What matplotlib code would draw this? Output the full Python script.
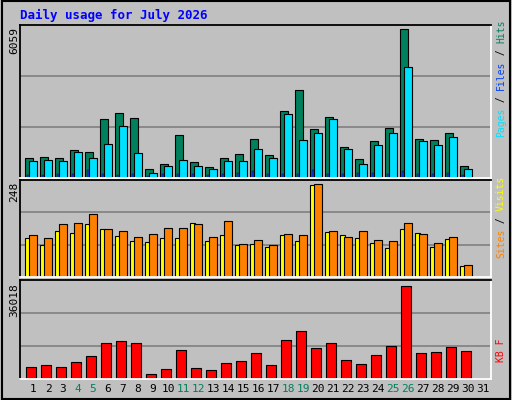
import matplotlib
matplotlib.use("Agg")
import matplotlib.pyplot as plt
import numpy as np

days = np.arange(1, 32)
weekend = [4, 5, 11, 12, 18, 19, 25, 26]

# values (day 31 has no data)
hits = [814, 856, 814, 1146, 1063, 2388, 2636, 2429, 359, 566, 1767, 649, 442, 814, 980,
        1601, 939, 2719, 3589, 1974, 2471, 1270, 773, 1518, 2015, 6059, 1601, 1560, 1849, 483, 0]
pages = [690, 731, 690, 1063, 814, 1394, 2098, 1021, 193, 483, 731, 483, 359, 690, 690,
         1187, 814, 2595, 1560, 1849, 2388, 1187, 566, 1353, 1849, 4499, 1518, 1353, 1684, 359, 0]
files = [120, 120, 150, 150, 330, 170, 120, 150, 100, 150, 150, 150, 120, 150, 200,
         300, 150, 150, 150, 330, 150, 150, 200, 200, 150, 300, 150, 150, 200, 120, 0]
visits = [111, 103, 141, 143, 167, 127, 122, 106, 114, 130, 130, 141, 106, 149, 87,
          98, 84, 114, 111, 248, 122, 106, 122, 98, 95, 143, 114, 90, 106, 33, 0]
sites = [103, 84, 122, 116, 141, 127, 108, 95, 92, 103, 103, 143, 95, 111, 84,
         87, 79, 111, 95, 245, 119, 111, 103, 90, 76, 127, 116, 79, 100, 28, 0]
kbytes = [4864, 5258, 4864, 6441, 8807, 13934, 14723, 13934, 2103, 4075, 11173, 4469, 3681, 6047, 6836,
          9990, 5258, 15117, 18666, 11962, 13934, 7230, 5652, 9202, 12751, 36018, 9990, 10385, 12357, 10779, 0]

W, H = 512, 400
fig = plt.figure(figsize=(W / 100, H / 100), dpi=100, facecolor="#C0C0C0")
mono = "DejaVu Sans Mono"

def px_axes(x0, y0, x1, y1):
    return fig.add_axes([x0 / W, 1 - y1 / H, (x1 - x0) / W, (y1 - y0) / H])

def style(ax, ymax, label_y, pad):
    ax.set_facecolor("#C0C0C0")
    ax.set_xlim(0, 471)
    ax.set_ylim(0, ymax * pad)
    lim = ax.get_ylim()[1]
    for f in (1 / 3, 2 / 3):
        ax.axhline(lim * f, color="#808080", lw=1.2, zorder=0)
    ax.set_xticks([]); ax.set_yticks([])
    for s in ("top", "left"):
        ax.spines[s].set_color("black")
    for s in ("bottom", "right"):
        ax.spines[s].set_color("white")
    for s in ax.spines.values():
        s.set_linewidth(1.3)
    fig.text(14 / W, 1 - label_y / H, str(ymax), rotation=90, ha="center", va="top",
             family=mono, fontsize=8)

x = (days - 1) * 15
ekw = dict(edgecolor="black", linewidth=0.8, align="edge")

ax1 = px_axes(20, 25, 491, 178)
ax1.bar(x + 5, hits, 8, color="#00805C", **ekw)
ax1.bar(x + 9, pages, 8, color="#00E0FF", **ekw)
ax1.bar(x + 7, files, 2, color="#0040FF", edgecolor="black", linewidth=0.3, align="edge")
style(ax1, max(hits), 27, 151 / 147)

ax2 = px_axes(20, 180, 491, 277)
ax2.bar(x + 5, sites, 5, color="#FFFF00", **ekw)
ax2.bar(x + 9, visits, 8, color="#FF8000", **ekw)
style(ax2, max(visits), 182, 1.04)

ax3 = px_axes(20, 280, 491, 379)
ax3.bar(x + 6, kbytes, 10, color="#FF0000", **ekw)
style(ax3, max(kbytes), 283, 1.07)

for d in days:
    fig.text((20 + 13 + (d - 1) * 15) / W, 1 - 389 / H, str(d), ha="center", va="center",
             family=mono, fontsize=8, color="#00805C" if d in weekend else "black")

fig.text(20 / W, 1 - 15 / H, "Daily usage for July 2026", family=mono, weight="bold",
         fontsize=9, color="#0000FF", va="center")

def right_label(parts, y_bottom):
    y = y_bottom
    step = 7 * 0.602 * 100 / 72
    for txt, col in parts:
        fig.text(501 / W, 1 - y / H, txt, rotation=90, ha="center", va="bottom",
                 family=mono, fontsize=7, color=col)
        y -= len(txt) * step
right_label([("Pages", "#00E0FF"), (" / ", "black"), ("Files", "#0040FF"), (" / ", "black"), ("Hits", "#00805C")], 137)
right_label([("Sites", "#FF8000"), (" / ", "black"), ("Visits", "#FFFF00")], 258)
right_label([("KB F", "#FF0000")], 362)

# outer border
fig.patches.append(plt.Rectangle((0.003, 0.003), 0.994, 0.994, transform=fig.transFigure,
                                 fill=False, edgecolor="black", lw=1.5))
fig.savefig("out.png", dpi=100, facecolor="#C0C0C0")
